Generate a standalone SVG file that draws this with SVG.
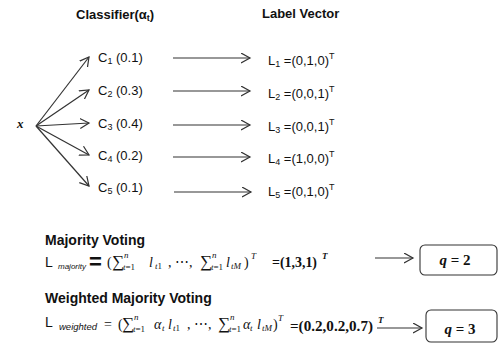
<svg xmlns="http://www.w3.org/2000/svg" width="499" height="343" viewBox="0 0 499 343">
<style>
text{fill:#111;}
.h{font-family:"Liberation Sans",Arial,sans-serif;font-weight:bold;font-size:13px;}
.h2{font-family:"Liberation Sans",Arial,sans-serif;font-weight:bold;font-size:14px;}
.lbl{font-family:"Liberation Sans",Arial,sans-serif;font-size:13px;}
.sub{font-size:9px;}
.m{font-family:"Liberation Serif","DejaVu Serif",serif;font-size:14px;}
.sum{font-family:"Liberation Serif","DejaVu Serif",serif;font-size:17px;}
.mi{font-family:"Liberation Serif","DejaVu Serif",serif;font-size:14px;font-style:italic;}
.ms{font-family:"Liberation Serif","DejaVu Serif",serif;font-size:9px;font-style:italic;}
.mn{font-family:"Liberation Serif","DejaVu Serif",serif;font-size:9px;font-style:normal;}
.mb{font-family:"Liberation Serif","DejaVu Serif",serif;font-size:14px;font-weight:bold;}
.L{font-family:"Liberation Sans",Arial,sans-serif;font-size:14px;}
.si{font-family:"Liberation Sans",Arial,sans-serif;font-style:italic;}
.ar{stroke:#333;stroke-width:1.2;fill:none;marker-end:url(#ah);}
.box{fill:#fff;stroke:#333;stroke-width:1.1;}
</style>
<defs>
<marker id="ah" markerUnits="userSpaceOnUse" markerWidth="11" markerHeight="12" refX="9" refY="5.5" orient="auto">
<path d="M0,0.5 L9,5.5 L0,10.5" fill="none" stroke="#333" stroke-width="1.2"/>
</marker>
</defs>

<g id="headers">
<text class="h" x="76" y="19">Classifier(α<tspan class="sub" dy="2">t</tspan><tspan dy="-2">)</tspan></text>
<text class="h" x="262" y="18">Label Vector</text>
</g>

<g id="input">
<text x="17" y="128" font-family="Liberation Serif,serif" font-weight="bold" font-style="italic" font-size="13">x</text>
</g>

<g id="c1"><text class="lbl" x="98" y="62">C<tspan class="sub" dy="2">1</tspan><tspan dy="-2"> (0.1)</tspan></text></g>
<g id="c2"><text class="lbl" x="98" y="95">C<tspan class="sub" dy="2">2</tspan><tspan dy="-2"> (0.3)</tspan></text></g>
<g id="c3"><text class="lbl" x="98" y="128">C<tspan class="sub" dy="2">3</tspan><tspan dy="-2"> (0.4)</tspan></text></g>
<g id="c4"><text class="lbl" x="98" y="160">C<tspan class="sub" dy="2">4</tspan><tspan dy="-2"> (0.2)</tspan></text></g>
<g id="c5"><text class="lbl" x="98" y="192">C<tspan class="sub" dy="2">5</tspan><tspan dy="-2"> (0.1)</tspan></text></g>

<g id="l1"><text class="lbl" x="268" y="65">L<tspan class="sub" dy="2">1</tspan><tspan dy="-2"> =(0,1,0)</tspan><tspan class="sub" dy="-6">T</tspan></text></g>
<g id="l2"><text class="lbl" x="268" y="98">L<tspan class="sub" dy="2">2</tspan><tspan dy="-2"> =(0,0,1)</tspan><tspan class="sub" dy="-6">T</tspan></text></g>
<g id="l3"><text class="lbl" x="268" y="131">L<tspan class="sub" dy="2">3</tspan><tspan dy="-2"> =(0,0,1)</tspan><tspan class="sub" dy="-6">T</tspan></text></g>
<g id="l4"><text class="lbl" x="268" y="163">L<tspan class="sub" dy="2">4</tspan><tspan dy="-2"> =(1,0,0)</tspan><tspan class="sub" dy="-6">T</tspan></text></g>
<g id="l5"><text class="lbl" x="268" y="196">L<tspan class="sub" dy="2">5</tspan><tspan dy="-2"> =(0,1,0)</tspan><tspan class="sub" dy="-6">T</tspan></text></g>

<g id="connectors">
<line class="ar" x1="36" y1="126" x2="89" y2="57"/>
<line class="ar" x1="36" y1="126" x2="89" y2="90"/>
<line class="ar" x1="36" y1="126" x2="89" y2="123"/>
<line class="ar" x1="36" y1="126" x2="89" y2="155"/>
<line class="ar" x1="36" y1="126" x2="89" y2="186"/>
<line class="ar" x1="173" y1="58" x2="250" y2="58"/>
<line class="ar" x1="173" y1="91" x2="250" y2="91"/>
<line class="ar" x1="173" y1="125" x2="250" y2="125"/>
<line class="ar" x1="173" y1="157" x2="250" y2="157"/>
<line class="ar" x1="174" y1="192" x2="251" y2="192"/>
<line class="ar" x1="375" y1="258" x2="413" y2="258"/>
<line class="ar" x1="377" y1="328" x2="422" y2="328"/>
</g>

<g id="majority">
<text class="h2" x="45" y="245">Majority Voting</text>
<text class="L" x="45" y="267">L</text>
<text class="si" x="58" y="269" font-size="8">majority</text>
<text x="89" y="269" font-family="Liberation Sans,Arial,sans-serif" font-weight="bold" font-size="22">=</text>
<text class="m" x="107" y="267">(</text>
<text class="sum" x="112" y="267">∑</text>
<text class="ms" x="124" y="258">n</text>
<text class="ms" x="123" y="270">t<tspan class="mn">=1</tspan></text>
<text class="mi" x="149" y="267">l</text>
<text class="ms" x="155" y="269">t<tspan class="mn">1</tspan></text>
<text class="m" x="168" y="267">,</text>
<text class="m" x="175" y="267">⋯,</text>
<text class="sum" x="200" y="267">∑</text>
<text class="ms" x="212" y="258">n</text>
<text class="ms" x="211" y="270">t<tspan class="mn">=1</tspan></text>
<text class="mi" x="226" y="267">l</text>
<text class="ms" x="231" y="269">tM</text>
<text class="m" x="244" y="267">)</text>
<text class="ms" x="251" y="259">T</text>
<text class="mb" x="272" y="267" textLength="45" lengthAdjust="spacingAndGlyphs">=(1,3,1)</text>
<text class="ms" x="322" y="259" font-weight="bold" font-size="10">T</text>
</g>

<g id="weighted">
<text class="h2" x="45" y="303">Weighted Majority Voting</text>
<text class="L" x="45" y="327">L</text>
<text class="si" x="59" y="330" font-size="9.5">weighted</text>
<text class="m" x="104" y="329">=</text>
<text class="m" x="118" y="329">(</text>
<text class="sum" x="122" y="329">∑</text>
<text class="ms" x="134" y="320">n</text>
<text class="ms" x="133" y="332">t<tspan class="mn">=1</tspan></text>
<text class="mi" x="154" y="329">α</text>
<text class="ms" x="162" y="331">t</text>
<text class="mi" x="168" y="329">l</text>
<text class="ms" x="173" y="331">t<tspan class="mn">1</tspan></text>
<text class="m" x="187" y="329">,</text>
<text class="m" x="194" y="329">⋯,</text>
<text class="sum" x="218" y="329">∑</text>
<text class="ms" x="230" y="320">n</text>
<text class="ms" x="229" y="332">t<tspan class="mn">=1</tspan></text>
<text class="mi" x="243" y="329">α</text>
<text class="ms" x="250" y="331">t</text>
<text class="mi" x="257" y="329">l</text>
<text class="ms" x="262" y="331">tM</text>
<text class="m" x="273" y="329">)</text>
<text class="ms" x="278" y="321">T</text>
<text class="mb" x="290" y="331" textLength="83" lengthAdjust="spacingAndGlyphs">=(0.2,0.2,0.7)</text>
<text class="ms" x="378" y="323" font-weight="bold" font-size="10">T</text>
</g>

<g id="q2">
<rect class="box" x="420" y="245" width="77" height="30" rx="5"/>
<text x="455" y="265" text-anchor="middle" font-family="Liberation Serif,serif" font-weight="bold" font-size="15"><tspan font-style="italic">q</tspan> = 2</text>
</g>
<g id="q3">
<rect class="box" x="426" y="310" width="71" height="32" rx="5"/>
<text x="460" y="334" text-anchor="middle" font-family="Liberation Serif,serif" font-weight="bold" font-size="15"><tspan font-style="italic">q</tspan> = 3</text>
</g>
</svg>
